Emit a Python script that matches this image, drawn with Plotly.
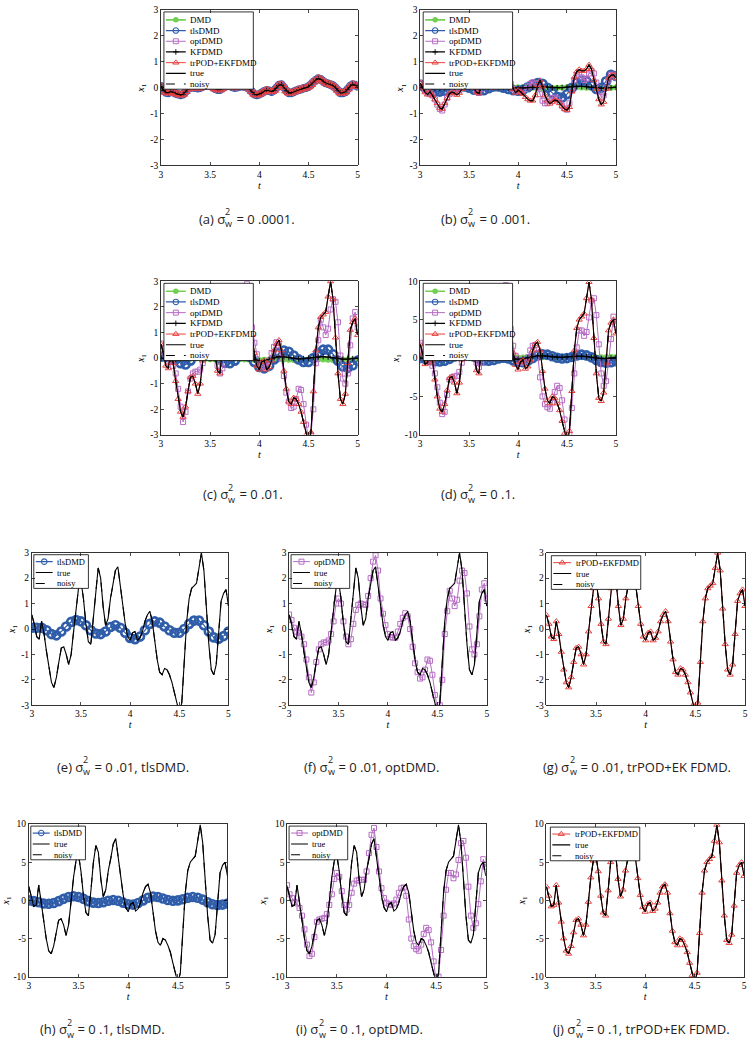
import numpy as np
import plotly.graph_objects as go

W, H = 755, 1050

# sampling grids (s)
t81 = np.round(np.linspace(3, 5, 81), 4)
t41 = np.round(np.linspace(3, 5, 41), 4)

# ---- true trajectories x1(t) (one per noise level) ----
true_a = [0.05, -0.1, -0.18, -0.2, -0.15, -0.17, -0.22, -0.25, -0.28, -0.25,
          -0.15, -0.05, 0.0, 0.02, 0.0, -0.02, 0.0, 0.05, 0.08, 0.1,
          0.08, 0.02, -0.04, -0.08, -0.08, -0.02, 0.05, 0.1, 0.08, 0.03,
          0.0, 0.02, 0.05, 0.06, 0.05, 0.02, -0.05, -0.15, -0.25, -0.28,
          -0.25, -0.2, -0.14, -0.1, -0.12, -0.15, -0.1, 0.0, 0.1, 0.12,
          0.02, -0.12, -0.2, -0.2, -0.16, -0.12, -0.08, -0.06, -0.02, 0.0,
          0.04, 0.12, 0.22, 0.3, 0.35, 0.32, 0.25, 0.18, 0.15, 0.12,
          0.08, 0.0, -0.1, -0.2, -0.2, -0.16, -0.05, 0.06, 0.12, 0.1,
          0.05]
true_b = [0.18, 0.0, -0.18, -0.27, -0.15, -0.3, -0.45, -0.6, -0.78, -0.82,
          -0.6, -0.4, -0.22, -0.17, -0.2, -0.28, -0.2, -0.05, 0.2, 0.4,
          0.5, 0.3, 0.0, -0.18, -0.22, 0.05, 0.4, 0.6, 0.5, 0.2,
          0.0, 0.1, 0.3, 0.45, 0.6, 0.65, 0.45, 0.15, -0.05, -0.2,
          -0.1, -0.15, -0.25, -0.36, -0.45, -0.5, -0.5, -0.3, 0.1, 0.28,
          0.05, -0.3, -0.5, -0.62, -0.55, -0.48, -0.5, -0.6, -0.7, -0.82,
          -0.86, -0.75, -0.15, 0.4, 0.62, 0.7, 0.65, 0.65, 0.72, 0.88,
          0.72, 0.3, -0.05, -0.45, -0.65, -0.55, -0.05, 0.38, 0.48, 0.5,
          0.38]
true_c = [0.55, 0.2, -0.3, -0.4, 0.3, -0.2, -0.9, -1.6, -2.1, -2.3,
          -1.9, -1.3, -0.75, -0.7, -1.0, -1.4, -1.0, -0.1, 0.9, 1.6,
          1.9, 1.2, 0.2, -0.5, -0.6, 0.4, 1.6, 2.4, 2.0, 0.9,
          0.15, 0.4, 1.2, 1.7, 2.3, 2.45, 1.7, 0.9, 0.2, -0.3,
          -0.45, -0.15, -0.1, -0.45, -0.35, -0.1, 0.3, 0.55, 0.7, 0.3,
          -0.5, -1.2, -1.7, -1.8, -1.55, -1.6, -1.8, -2.1, -2.5, -3.0,
          -3.3, -2.9, -1.3, 0.3, 1.2, 1.6, 1.7, 1.8, 2.4, 3.0,
          2.3, 0.8, -0.6, -1.6, -1.8, -1.4, -0.2, 1.1, 1.4, 1.55,
          0.9]
true_d = [1.8, 0.6, -0.8, -0.6, 2.0, -0.3, -2.8, -5.0, -6.6, -7.0,
          -6.0, -4.2, -2.6, -2.4, -3.2, -4.6, -3.2, -0.2, 3.0, 5.2,
          6.0, 3.8, 0.6, -1.6, -2.0, 1.3, 5.0, 7.2, 6.3, 2.8,
          0.5, 1.4, 3.9, 5.5, 7.4, 8.1, 5.6, 2.9, 0.7, -0.9,
          -1.5, -0.5, -0.3, -1.4, -1.1, -0.3, 1.0, 1.8, 2.1, 1.0,
          -1.7, -4.0, -5.5, -5.9, -5.0, -5.2, -5.9, -6.8, -8.2, -9.8,
          -10.8, -9.5, -4.3, 1.0, 3.9, 5.0, 5.4, 5.8, 7.8, 9.9,
          7.6, 2.6, -2.0, -5.2, -5.6, -4.5, -0.7, 3.6, 4.6, 5.0,
          3.2]

# ---- optDMD reconstructions ----
opt_b = [0.18, 0.05, -0.1, -0.2, -0.25, -0.3, -0.45, -0.65, -0.82, -0.88,
         -0.65, -0.4, -0.25, -0.18, -0.17, -0.17, -0.1, 0.05, 0.2, 0.35,
         0.4, 0.3, 0.05, -0.15, -0.2, -0.05, 0.2, 0.3, 0.3, 0.3,
         0.3, 0.35, 0.55, 0.75, 0.85, 0.8, 0.5, 0.15, -0.05, -0.1,
         -0.12, -0.12, -0.1, -0.05, 0.05, 0.15, 0.2, 0.15, 0.0, -0.25,
         -0.5, -0.6, -0.6, -0.5, -0.4, -0.38, -0.42, -0.55, -0.7, -0.8,
         -0.85, -0.6, -0.1, 0.3, 0.48, 0.5, 0.4, 0.3, 0.35, 0.55,
         0.65, 0.55, 0.2, -0.15, -0.35, -0.3, 0.0, 0.3, 0.5, 0.5,
         0.4]
opt_c = [0.57, 0.35, 0.05, -0.1, -0.15, -0.3, -0.6, -1.2, -1.9, -2.5,
         -2.1, -1.3, -0.8, -0.6, -0.53, -0.53, -0.45, -0.2, 0.3, 1.0,
         1.2, 1.0, 0.3, -0.3, -0.6, -0.4, 0.2, 0.75, 0.95, 1.0,
         0.97, 0.95, 1.3, 2.0, 2.65, 2.9, 2.3, 1.2, 0.6, 0.15,
         -0.2, -0.32, -0.34, -0.34, -0.1, 0.2, 0.44, 0.62, 0.5, 0.0,
         -0.7, -1.35, -1.7, -1.95, -1.9, -1.6, -1.2, -1.25, -1.8, -2.6,
         -3.2, -3.0, -2.0, -0.2, 0.7, 1.5, 1.2, 0.9, 1.15, 1.9,
         2.3, 2.2, 1.4, 0.1, -0.8, -1.0, -0.6, 0.5, 1.55, 1.8,
         1.2]
opt_d = [2.0, 0.8, 0.3, -0.2, -0.4, -1.0, -2.0, -3.8, -5.8, -7.3,
         -7.0, -4.8, -2.8, -2.5, -2.4, -2.3, -1.8, -0.6, 0.8, 2.8,
         3.6, 3.1, 1.2, -0.6, -1.2, -0.6, 1.0, 2.2, 2.6, 2.7,
         2.7, 2.7, 3.8, 6.2, 8.6, 9.5, 7.0, 3.8, 1.6, 0.3,
         -0.3, -0.5, -0.6, -0.4, 0.1, 1.0, 1.6, 1.7, 0.6, -2.5,
         -5.0, -6.0, -6.4, -6.6, -5.8, -4.4, -3.6, -3.9, -5.5, -8.0,
         -10.5, -10.0, -6.5, -2.0, 1.4, 3.6, 3.6, 2.9, 3.4, 5.3,
         7.5, 7.8, 5.6, 1.8, -2.0, -3.6, -3.0, -0.5, 2.5, 5.4,
         4.4]

# ---- tlsDMD reconstructions (t41 grid) ----
tls_b = [0.12, 0.0, -0.1, -0.15, -0.15, -0.12, -0.05, 0.02, 0.05, 0.05,
         0.0, -0.08, -0.12, -0.1, -0.02, 0.05, 0.05, 0.0, -0.05, -0.1,
         -0.12, -0.08, 0.02, 0.12, 0.18, 0.15, 0.0, -0.2, -0.35, -0.38,
         -0.25, 0.0, 0.2, 0.28, 0.25, 0.1, -0.05, 0.0, 0.25, 0.5,
         0.45]
tls_c = [0.05, 0.05, 0.05, -0.05, -0.2, -0.25, -0.1, 0.1, 0.28, 0.35,
         0.3, 0.15, -0.05, -0.18, -0.2, -0.1, 0.08, 0.15, 0.05, -0.15,
         -0.35, -0.4, -0.3, -0.05, 0.2, 0.3, 0.25, 0.1, -0.05, -0.15,
         -0.15, 0.0, 0.2, 0.33, 0.33, 0.15, -0.1, -0.33, -0.38, -0.28,
         -0.1]
tls_d = [0.0, -0.1, -0.25, -0.4, -0.45, -0.35, -0.1, 0.2, 0.45, 0.55,
         0.45, 0.2, -0.1, -0.3, -0.35, -0.25, -0.05, 0.05, -0.05, -0.3,
         -0.5, -0.55, -0.35, 0.0, 0.35, 0.5, 0.45, 0.25, 0.05, -0.05,
         0.0, 0.15, 0.35, 0.45, 0.35, 0.1, -0.25, -0.5, -0.6, -0.55,
         -0.4]

# ---- DMD reconstructions (t41 grid) ----
dmd_b = [0.02, 0.02, 0.01, 0.0, -0.01, -0.02, -0.02, -0.01, 0.0, 0.01,
         0.02, 0.02, 0.01, 0.0, -0.01, -0.02, -0.02, -0.01, 0.0, 0.01,
         0.02, 0.02, 0.01, 0.0, -0.01, -0.02, -0.02, -0.01, 0.0, 0.01,
         0.02, 0.02, 0.02, 0.01, 0.0, -0.01, -0.02, -0.02, -0.01, 0.0,
         0.01]
dmd_c = [0.0, -0.02, -0.04, -0.05, -0.05, -0.04, -0.03, -0.02, -0.02, -0.03,
         -0.04, -0.05, -0.05, -0.04, -0.03, -0.03, -0.04, -0.05, -0.06, -0.07,
         -0.07, -0.06, -0.05, -0.04, -0.04, -0.05, -0.06, -0.07, -0.07, -0.06,
         -0.05, -0.04, -0.04, -0.05, -0.06, -0.07, -0.07, -0.06, -0.05, -0.05,
         -0.06]
dmd_d = [0.1, 0.08, 0.06, 0.05, 0.05, 0.06, 0.08, 0.1, 0.1, 0.09,
         0.08, 0.07, 0.07, 0.08, 0.1, 0.11, 0.11, 0.1, 0.09, 0.08,
         0.08, 0.09, 0.1, 0.12, 0.12, 0.11, 0.1, 0.09, 0.09, 0.1,
         0.12, 0.13, 0.13, 0.12, 0.1, 0.09, 0.09, 0.1, 0.12, 0.13,
         0.13]

# ---- KFDMD reconstructions (t41 grid) ----
kf_b = [0.0, -0.02, -0.03, -0.03, -0.02, 0.0, 0.01, 0.02, 0.02, 0.01,
        0.0, -0.01, -0.01, 0.0, 0.01, 0.02, 0.02, 0.01, 0.0, -0.01,
        -0.02, -0.01, 0.0, 0.02, 0.03, 0.03, 0.02, 0.0, -0.01, 0.0,
        0.02, 0.04, 0.05, 0.05, 0.04, 0.02, 0.0, -0.02, -0.02, 0.0,
        0.02]
kf_c = [0.0, -0.03, -0.05, -0.05, -0.03, 0.0, 0.02, 0.03, 0.02, 0.0,
        -0.02, -0.03, -0.02, 0.0, 0.02, 0.03, 0.02, 0.0, -0.03, -0.06,
        -0.1, -0.1, -0.05, 0.02, 0.06, 0.05, 0.02, -0.01, -0.03, -0.02,
        0.0, 0.03, 0.05, 0.06, 0.04, 0.01, -0.02, -0.04, -0.04, -0.02,
        0.0]
kf_d = [0.0, -0.05, -0.1, -0.1, -0.05, 0.0, 0.05, 0.1, 0.1, 0.05,
        0.0, -0.05, -0.05, 0.0, 0.05, 0.1, 0.1, 0.05, 0.0, -0.1,
        -0.15, -0.1, 0.05, 0.2, 0.3, 0.3, 0.25, 0.15, 0.1, 0.1,
        0.15, 0.2, 0.25, 0.25, 0.2, 0.1, 0.0, -0.05, -0.05, 0.0,
        0.05]

x_ticks = [3, 3.5, 4, 4.5, 5]
x_ticktext = ['3', '3.5', '4', '4.5', '5']
y3_ticks = [-3, -2, -1, 0, 1, 2, 3]
y3_text = ['-3', '-2', '-1', '0', '1', '2', '3']
y10_ticks = [-10, -5, 0, 5, 10]
y10_text = ['-10', '-5', '0', '5', '10']

STY = {
    'DMD': dict(color='#72CF52', symbol='circle', size=6, mlw=0, lw=1.6),
    'tlsDMD': dict(color='#2F5DAA', symbol='circle-open', size=8, mlw=2.6, lw=1.2),
    'optDMD': dict(color='#B56CC3', symbol='square-open', size=5, mlw=1, lw=1),
    'KFDMD': dict(color='#000000', symbol='cross-thin-open', size=4, mlw=0.9, lw=1.3),
    'trPOD+EKFDMD': dict(color='#E8423F', symbol='triangle-up-open', size=5.5, mlw=1, lw=1),
}

SERIF = 'Liberation Serif'
SANS = 'Open Sans'
CAP_FS = 13

# approximate Open Sans advance widths (em) used to place the stacked sigma indices
CW = {'(': 0.295, ')': 0.295, ' ': 0.26, 'σ': 0.61, 'a': 0.556, 'b': 0.613, 'c': 0.476,
      'd': 0.613, 'e': 0.561, 'f': 0.339, 'g': 0.548, 'h': 0.614, 'i': 0.253, 'j': 0.253}


def text_w(s, fs):
    return sum(CW.get(ch, 0.55) for ch in s) * fs


big_leg = dict(x0=3, x1=93, top=2, bot=80, y0=10, dy=10.8, lx0=5, lx1=25, tx=27, fs=9)


def small_leg(w):
    return dict(x0=2, x1=2 + w, top=2, bot=36, y0=9, dy=11, lx0=4, lx1=21, tx=23, fs=8.5)


panels = [
    dict(box=(160, 358, 5, 162), yr=3,
         series=[('DMD', t81, true_a), ('tlsDMD', t81, true_a), ('optDMD', t81, true_a),
                 ('KFDMD', t81, true_a), ('trPOD+EKFDMD', t81, true_a),
                 ('true', t81, true_a), ('noisy', t81, true_a)],
         sizes={'tlsDMD': 6, 'trPOD+EKFDMD': 8},
         leg=big_leg, pre='(a) σ', post=' = 0 .0001.', cl=196, cy=216),
    dict(box=(421, 618, 5, 162), yr=3,
         series=[('DMD', t41, dmd_b), ('tlsDMD', t41, tls_b), ('optDMD', t81, opt_b),
                 ('KFDMD', t41, kf_b), ('trPOD+EKFDMD', t81, true_b),
                 ('true', t81, true_b), ('noisy', t81, true_b)],
         leg=big_leg, pre='(b) σ', post=' = 0 .001.', cl=440, cy=216),
    dict(box=(160, 358, 279, 434), yr=3,
         series=[('DMD', t41, dmd_c), ('tlsDMD', t41, tls_c), ('optDMD', t81, opt_c),
                 ('KFDMD', t41, kf_c), ('trPOD+EKFDMD', t81, true_c),
                 ('true', t81, true_c), ('noisy', t81, true_c)],
         leg=big_leg, pre='(c) σ', post=' = 0 .01.', cl=200, cy=494),
    dict(box=(421, 618, 279, 434), yr=10,
         series=[('DMD', t41, dmd_d), ('tlsDMD', t41, tls_d), ('optDMD', t81, opt_d),
                 ('KFDMD', t41, kf_d), ('trPOD+EKFDMD', t81, true_d),
                 ('true', t81, true_d), ('noisy', t81, true_d)],
         leg=big_leg, pre='(d) σ', post=' = 0 .1.', cl=440, cy=494),
    dict(box=(30, 228, 553, 707), yr=3,
         series=[('tlsDMD', t41, tls_c), ('true', t81, true_c), ('noisy', t81, true_c)],
         leg=small_leg(55), pre='(e) σ', post=' = 0 .01, tlsDMD.', cl=53, cy=769),
    dict(box=(289, 488, 553, 707), yr=3,
         series=[('optDMD', t81, opt_c), ('true', t81, true_c), ('noisy', t81, true_c)],
         leg=small_leg(59), pre='(f) σ', post=' = 0 .01, optDMD.', cl=302, cy=769),
    dict(box=(548, 748, 553, 707), yr=3,
         series=[('trPOD+EKFDMD', t81, true_c), ('true', t81, true_c), ('noisy', t81, true_c)],
         leg=dict(x0=5, x1=95, top=3, bot=37, y0=10, dy=11, lx0=7, lx1=25, tx=28, fs=8.5),
         pre='(g) σ', post=' = 0 .01, trPOD+EK FDMD.', cl=543, cy=769),
    dict(box=(27, 227, 827, 981), yr=10,
         series=[('tlsDMD', t41, tls_d), ('true', t81, true_d), ('noisy', t81, true_d)],
         leg=small_leg(55), pre='(h) σ', post=' = 0 .1, tlsDMD.', cl=36, cy=1034),
    dict(box=(287, 487, 827, 981), yr=10,
         series=[('optDMD', t81, opt_d), ('true', t81, true_d), ('noisy', t81, true_d)],
         leg=small_leg(59), pre='(i) σ', post=' = 0 .1, optDMD.', cl=294, cy=1034),
    dict(box=(548, 747, 827, 981), yr=10,
         series=[('trPOD+EKFDMD', t81, true_d), ('true', t81, true_d), ('noisy', t81, true_d)],
         leg=dict(x0=4, x1=94, top=3, bot=37, y0=10, dy=11, lx0=6, lx1=24, tx=27, fs=8.5),
         pre='(j) σ', post=' = 0 .1, trPOD+EK FDMD.', cl=553, cy=1034),
]

fig = go.Figure()
layout = dict(width=W, height=H, margin=dict(l=0, r=0, t=0, b=0),
              paper_bgcolor='white', plot_bgcolor='white', showlegend=False)
annotations = []


def axid(letter, k):
    return letter if k == 1 else f'{letter}{k}'


def add_line_trace(name, tt, yy, xa, ya):
    if name in ('true', 'noisy'):
        fig.add_trace(go.Scatter(x=tt, y=yy, mode='lines', xaxis=xa, yaxis=ya,
                                 line=dict(color='black', width=1.1,
                                           dash='solid' if name == 'true' else 'dash'),
                                 hoverinfo='skip', showlegend=False))
        return
    s = STY[name]
    fig.add_trace(go.Scatter(x=tt, y=yy, mode='lines', xaxis=xa, yaxis=ya,
                             line=dict(color=s['color'], width=s['lw']),
                             hoverinfo='skip', showlegend=False))


def add_marker_trace(name, tt, yy, xa, ya, legend=False, size=None):
    if name in ('true', 'noisy'):
        return
    s = STY[name]
    size = s['size'] if size is None else size
    lw = s['mlw']
    if legend:
        size = min(size, 5.5)
        lw = min(lw, 1.1)
    fig.add_trace(go.Scatter(x=tt, y=yy, mode='markers', xaxis=xa, yaxis=ya,
                             marker=dict(symbol=s['symbol'], size=size, color=s['color'],
                                         line=dict(color=s['color'], width=lw)),
                             hoverinfo='skip', showlegend=False))


for i, p in enumerate(panels, start=1):
    x0, x1, y0, y1 = p['box']
    xa, ya = axid('x', i), axid('y', i)
    yr = p['yr']
    tickfont = dict(family=SERIF, size=9.5, color='black')
    layout[f'xaxis{i}'] = dict(
        domain=[x0 / W, x1 / W], anchor=ya, range=[3, 5],
        tickvals=x_ticks, ticktext=x_ticktext, ticks='inside', ticklen=3, tickwidth=0.7,
        tickcolor='black', showline=True, linecolor='black', linewidth=0.8, mirror='ticks',
        showgrid=False, zeroline=False, tickfont=tickfont, ticklabeloverflow='allow',
        title=dict(text='<i>t</i>', font=dict(family=SERIF, size=10, color='black'), standoff=1))
    layout[f'yaxis{i}'] = dict(
        domain=[1 - y1 / H, 1 - y0 / H], anchor=xa, range=[-yr, yr],
        tickvals=y3_ticks if yr == 3 else y10_ticks,
        ticktext=y3_text if yr == 3 else y10_text,
        ticks='inside', ticklen=3, tickwidth=0.7, tickcolor='black',
        showline=True, linecolor='black', linewidth=0.8, mirror='ticks',
        showgrid=False, zeroline=False, tickfont=tickfont, ticklabeloverflow='allow',
        title=dict(text='<i>x</i><sub>1</sub>', font=dict(family=SERIF, size=10, color='black'),
                   standoff=3))

    sizes = p.get('sizes', {})
    for name, tt, yy in p['series']:
        add_line_trace(name, tt, yy, xa, ya)
        add_marker_trace(name, tt, yy, xa, ya, size=sizes.get(name))

    # ---- legend box drawn on an overlay axis measured in pixels ----
    k = i + 10
    lxa, lya = f'x{k}', f'y{k}'
    pw, ph = x1 - x0, y1 - y0
    layout[f'xaxis{k}'] = dict(overlaying=xa, anchor=lya, range=[0, pw], visible=False,
                               fixedrange=True)
    layout[f'yaxis{k}'] = dict(overlaying=ya, anchor=lxa, range=[0, ph], visible=False,
                               fixedrange=True)
    L = p['leg']
    ytop, ybot = ph - L['top'], ph - L['bot']
    fig.add_trace(go.Scatter(x=[L['x0'], L['x1'], L['x1'], L['x0'], L['x0']],
                             y=[ytop, ytop, ybot, ybot, ytop], mode='lines', fill='toself',
                             fillcolor='white', line=dict(color='black', width=0.8),
                             xaxis=lxa, yaxis=lya, hoverinfo='skip', showlegend=False))
    names = [s[0] for s in p['series']]
    for j, name in enumerate(names):
        yc = ph - (L['y0'] + j * L['dy'])
        add_line_trace(name, [L['lx0'], L['lx1']], [yc, yc], lxa, lya)
        add_marker_trace(name, [(L['lx0'] + L['lx1']) / 2], [yc], lxa, lya, legend=True)
        annotations.append(dict(x=L['tx'], y=yc, xref=lxa, yref=lya, text=name,
                                xanchor='left', yanchor='middle', showarrow=False,
                                font=dict(family=SERIF, size=L['fs'], color='black')))

    # ---- caption with stacked sigma indices ----
    cfont = dict(family=SANS, size=CAP_FS, color='#222222')
    xp = p['cl'] + text_w(p['pre'], CAP_FS)
    yc = 1 - p['cy'] / H
    annotations.append(dict(x=p['cl'] / W, y=yc, xref='paper', yref='paper', text=p['pre'],
                            showarrow=False, xanchor='left', yanchor='middle', font=cfont))
    annotations.append(dict(x=(xp + 0.5) / W, y=1 - (p['cy'] - 1) / H, xref='paper',
                            yref='paper', text='2<br>w', showarrow=False, xanchor='left',
                            yanchor='middle', align='left',
                            font=dict(family=SANS, size=9, color='#222222')))
    annotations.append(dict(x=(xp + 8) / W, y=yc, xref='paper', yref='paper',
                            text=p['post'], showarrow=False, xanchor='left', yanchor='middle',
                            font=cfont))

layout['annotations'] = annotations
fig.update_layout(**layout)
fig.write_html('out.html',
               config={'displayModeBar': False, 'staticPlot': True},
               post_script="document.body.style.margin='0';"
                           "document.body.style.padding='0';"
                           "document.body.style.overflow='hidden';")
